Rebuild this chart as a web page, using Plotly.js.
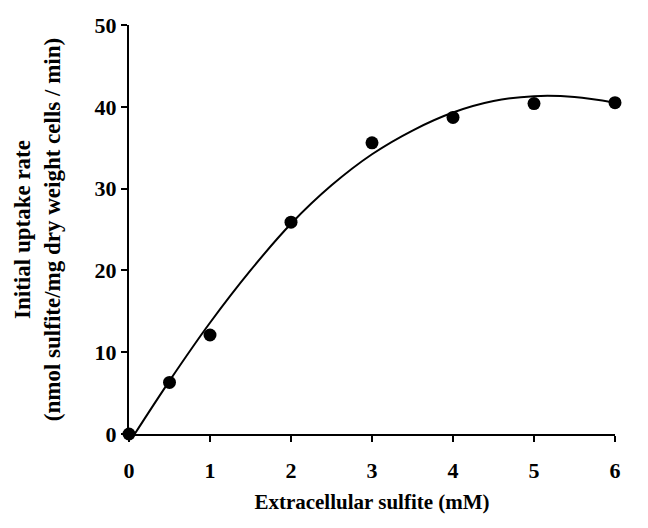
<!DOCTYPE html>
<html>
<head>
<meta charset="utf-8">
<script src="https://cdn.plot.ly/plotly-3.0.1.min.js"></script>
<style>
  html, body { margin: 0; padding: 0; background: #fff; }
  #chart { width: 648px; height: 528px; }
</style>
</head>
<body>
<div id="chart"></div>
<script>
// Measured data points
const sulfiteMM = [0, 0.5, 1, 2, 3, 4, 5, 6];
const uptakeRate = [0, 6.3, 12.1, 25.9, 35.6, 38.7, 40.4, 40.5];

// Fitted curve
const fitX = [0.07, 0.5, 1, 1.5, 2, 2.5, 3, 3.5, 4, 4.5, 5, 5.5, 6];
const fitY = [0, 6.5, 13.6, 20.0, 25.7, 30.4, 34.2, 37.1, 39.3, 40.7, 41.3, 41.2, 40.5];

const xTicks = [0, 1, 2, 3, 4, 5, 6];
const yTicks = [0, 10, 20, 30, 40, 50];

const fontFam = '"Liberation Serif", "Times New Roman", serif';

const traces = [
  {
    x: fitX, y: fitY, type: 'scatter', mode: 'lines',
    line: { color: '#000', width: 2, shape: 'spline', smoothing: 1 },
    hoverinfo: 'skip', cliponaxis: false
  },
  {
    x: sulfiteMM, y: uptakeRate, type: 'scatter', mode: 'markers',
    marker: { color: '#000', size: 13 },
    cliponaxis: false
  }
];

const layout = {
  width: 648, height: 528,
  margin: { l: 129, r: 33, t: 25, b: 94 },
  paper_bgcolor: '#fff', plot_bgcolor: '#fff',
  showlegend: false,
  font: { family: fontFam, color: '#000' },
  xaxis: {
    range: [0, 6], tickvals: xTicks, ticktext: xTicks.map(String),
    showgrid: false, zeroline: false,
    showline: true, linecolor: '#000', linewidth: 2,
    ticks: 'outside', ticklen: 6, tickwidth: 2, tickcolor: '#000',
    ticklabelstandoff: 10,
    tickfont: { family: fontFam, size: 22, color: '#000', weight: 'bold' },
    title: { text: '<b>Extracellular sulfite (mM)</b>', font: { family: fontFam, size: 21, color: '#000' }, standoff: 12 }
  },
  yaxis: {
    range: [0, 50], tickvals: yTicks, ticktext: yTicks.map(String),
    showgrid: false, zeroline: false,
    showline: true, linecolor: '#000', linewidth: 2,
    ticks: 'outside', ticklen: 6, tickwidth: 2, tickcolor: '#000',
    tickfont: { family: fontFam, size: 22, color: '#000', weight: 'bold' },
    title: { text: '<b>Initial uptake rate<br>(nmol sulfite/mg dry weight cells / min)</b>', font: { family: fontFam, size: 23, color: '#000' }, standoff: 28 }
  }
};

Plotly.newPlot('chart', traces, layout, { staticPlot: true, displayModeBar: false });
</script>
</body>
</html>
